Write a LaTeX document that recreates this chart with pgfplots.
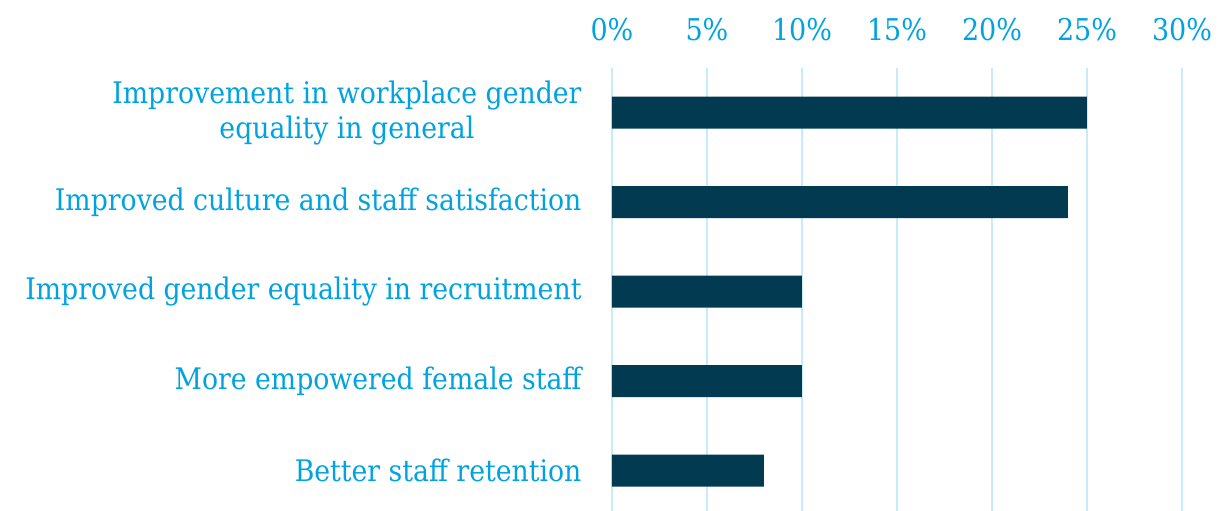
\documentclass[border=0pt]{standalone}
\usepackage{pgfplots}
\pgfplotsset{compat=1.18}
\usepackage{fontspec}
\setmainfont{DejaVu Serif Condensed}
\definecolor{lbl}{RGB}{0,163,224}
\definecolor{bar}{RGB}{2,58,82}
\definecolor{grd}{RGB}{198,235,250}
\begin{document}
\begin{tikzpicture}
\begin{axis}[
  scale only axis,
  width=570bp, height=443bp,
  xmin=0, xmax=30,
  ymin=-0.5, ymax=4.45,
  y dir=reverse,
  xbar, bar width=32bp,
  axis line style={draw=none},
  major tick length=0pt,
  xtick={0,5,10,15,20,25,30},
  xticklabel pos=top,
  xticklabel={\pgfmathprintnumber{\tick}\%},
  xticklabel style={font=\fontsize{30bp}{34bp}\selectfont, text=lbl, yshift=24bp},
  xmajorgrids,
  grid style={grd, line width=1.5bp},
  ytick={0,1,2,3,4},
  yticklabels={{Improvement in workplace gender\\equality in general},
               {Improved culture and staff satisfaction},
               {Improved gender equality in recruitment},
               {More empowered female staff},
               {Better staff retention}},
  yticklabel style={font=\fontsize{29.7bp}{35bp}\selectfont, text=lbl, align=center, xshift=-27bp},
  /pgf/number format/assume math mode=true,
  clip=false,
]
\addplot[fill=bar, draw=none] coordinates {(25,0) (24,1) (10,2) (10,3) (8,4)};
\end{axis}
\pgfresetboundingbox
\path ([xshift=-612bp]current axis.south west) rectangle ([xshift=36bp,yshift=68bp]current axis.north east);
\end{tikzpicture}
\end{document}
